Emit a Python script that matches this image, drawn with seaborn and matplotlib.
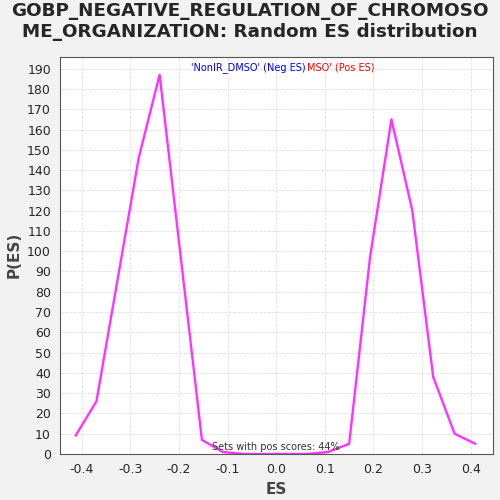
import numpy as np
import matplotlib
matplotlib.use("Agg")
import matplotlib.pyplot as plt
import seaborn as sns

es = [-0.413, -0.370, -0.283, -0.240, -0.196, -0.153, -0.110, -0.066, -0.023, 0.020, 0.063, 0.107, 0.150, 0.193, 0.237, 0.280, 0.323, 0.367, 0.410]
pes = [9, 26, 146, 187, 96, 7, 1, 0, 0, 0, 0, 1, 5, 97, 165, 120, 38, 10, 5]
xticks = [-0.4, -0.3, -0.2, -0.1, 0.0, 0.1, 0.2, 0.3, 0.4]

sns.set_style("whitegrid")
plt.rcParams['font.family'] = ['DejaVu Sans']
fig = plt.figure(figsize=(5, 5), dpi=100)
fig.patch.set_facecolor('#f2f2f2')
ax = fig.add_axes([0.12, 0.092, 0.865, 0.795])
sns.lineplot(x=es, y=pes, color='#ff33ff', linewidth=1.7, ax=ax)
ax.set_xlim(-0.445, 0.445)
ax.set_ylim(0, 196)
ax.set_xticks(xticks)
ax.set_xticklabels([f"{v:.1f}" for v in xticks])
ax.set_yticks(range(0, 191, 10))
ax.tick_params(labelsize=9, length=3)
ax.grid(color='#e0e0e0', linestyle='--', linewidth=0.6)
for s in ax.spines.values():
    s.set_color('#555555')
ax.set_xlabel('ES', fontsize=11, fontweight='bold', color='#444444')
ax.set_ylabel('P(ES)', fontsize=11, fontweight='bold', color='#444444')
fig.suptitle('GOBP_NEGATIVE_REGULATION_OF_CHROMOSO\nME_ORGANIZATION: Random ES distribution',
             fontsize=13.2, fontweight='bold', y=0.995)
ax.text(0.435, 0.985, "'NonIR_DMSO' (Neg ES)", color='blue', fontsize=7, transform=ax.transAxes, ha='center', va='top')
ax.text(0.65, 0.985, "MSO' (Pos ES)", color='red', fontsize=7, transform=ax.transAxes, ha='center', va='top')
ax.text(0.0, 1, 'Sets with pos scores: 44%', fontsize=7, ha='center', va='bottom', color='#333333')
fig.savefig('out.png', dpi=100, facecolor=fig.get_facecolor())
